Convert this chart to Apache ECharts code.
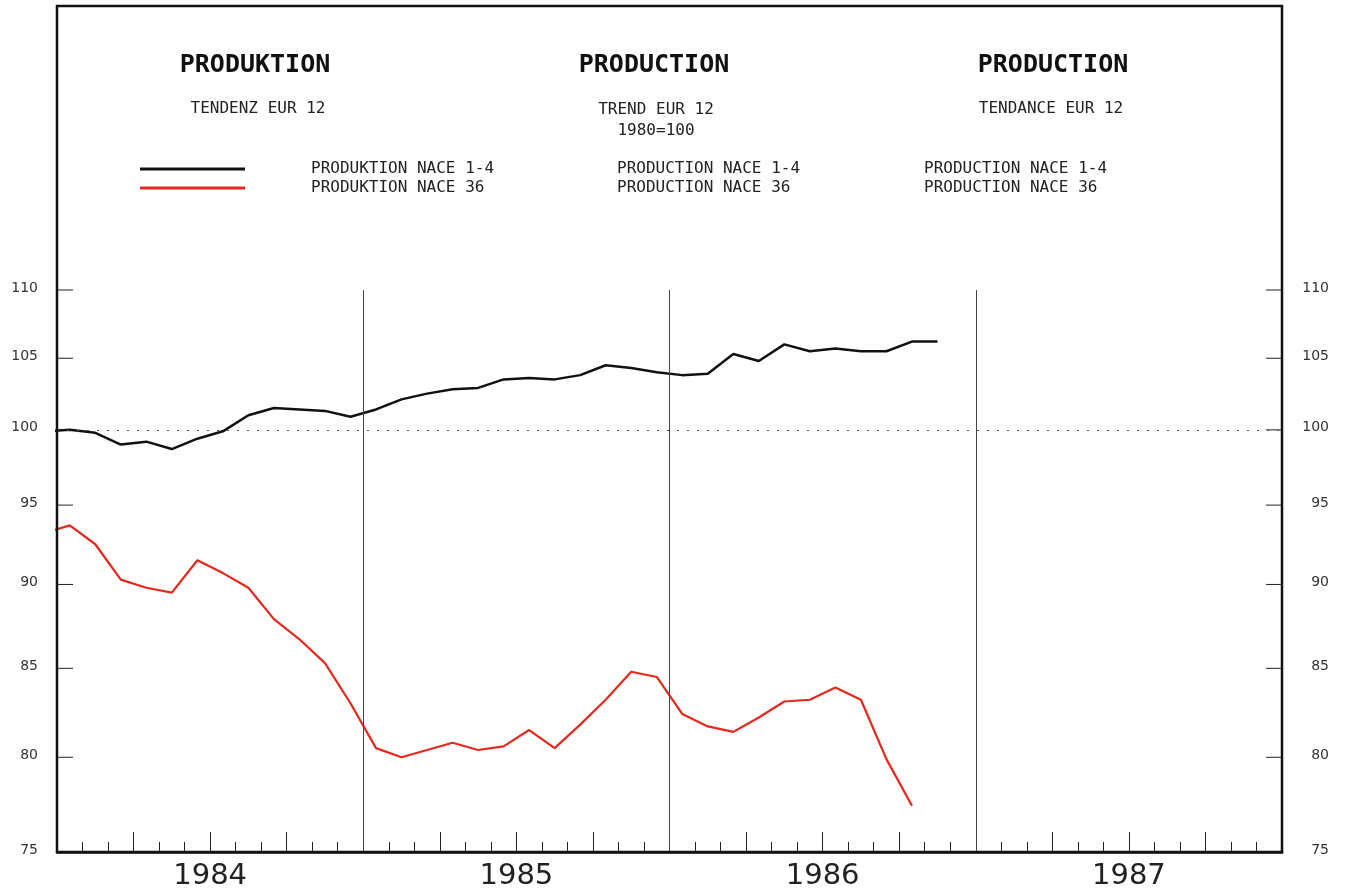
<!DOCTYPE html>
<html>
<head>
<meta charset="utf-8">
<script src="https://cdn.jsdelivr.net/npm/echarts@6/dist/echarts.min.js"></script>
<style>
html,body{margin:0;padding:0;background:#fff;}
#chart{width:1345px;height:894px;}
</style>
</head>
<body>
<div id="chart"></div>
<script>
// ---- data ----
const years = ['1984', '1985', '1986', '1987'];
const yTicks = [75, 80, 85, 90, 95, 100, 105, 110];
const namesDE = ['PRODUKTION NACE 1-4', 'PRODUKTION NACE 36'];
const namesEN = ['PRODUCTION NACE 1-4', 'PRODUCTION NACE 36'];
const namesFR = ['PRODUCTION NACE 1-4', 'PRODUCTION NACE 36'];
// monthly values, first value = Dec 1983
const startMonth = -1;
const nace14 = [99.9,
  100.0, 99.8, 99.0, 99.2, 98.7, 99.4, 99.9, 101.0, 101.5, 101.4, 101.3, 100.9,
  101.4, 102.1, 102.5, 102.8, 102.9, 103.5, 103.6, 103.5, 103.8, 104.5, 104.3, 104.0,
  103.8, 103.9, 105.3, 104.8, 106.0, 105.5, 105.7, 105.5, 105.5, 106.2, 106.2];
const nace36 = [93.2,
  93.7, 92.5, 90.3, 89.8, 89.5, 91.5, 90.7, 89.8, 87.9, 86.7, 85.3, 83.0,
  80.5, 80.0, 80.4, 80.8, 80.4, 80.6, 81.5, 80.5, 81.8, 83.2, 84.8, 84.5,
  82.4, 81.7, 81.4, 82.2, 83.1, 83.2, 83.9, 83.2, 79.9, 77.4];
const baseLine = 100;

// ---- build ----
const toPoints = arr => arr.map((v, i) => [startMonth + i + 0.5, v]);
const nMonths = years.length * 12;
const yearBounds = years.slice(1).map((y, i) => ({ xAxis: (i + 1) * 12 }));

const chart = echarts.init(document.getElementById('chart'), null, { renderer: 'canvas' });
const monoFont = '"DejaVu Sans Mono", monospace';

const option = {
  animation: false,
  backgroundColor: '#ffffff',
  title: [
    { text: 'PRODUKTION', left: 255, top: 53, textAlign: 'center', padding: 0,
      textStyle: { fontFamily: monoFont, fontSize: 25, fontWeight: 'bold', color: '#111' } },
    { text: 'TENDENZ EUR 12', left: 258, top: 101, textAlign: 'center', padding: 0,
      textStyle: { fontFamily: monoFont, fontSize: 16, fontWeight: 'normal', color: '#222' } },
    { text: 'PRODUCTION', left: 654, top: 53, textAlign: 'center', padding: 0,
      textStyle: { fontFamily: monoFont, fontSize: 25, fontWeight: 'bold', color: '#111' } },
    { text: 'TREND EUR 12\n1980=100', left: 656, top: 99, textAlign: 'center', padding: 0,
      textStyle: { fontFamily: monoFont, fontSize: 16, fontWeight: 'normal', color: '#222', lineHeight: 21 } },
    { text: 'PRODUCTION', left: 1053, top: 53, textAlign: 'center', padding: 0,
      textStyle: { fontFamily: monoFont, fontSize: 25, fontWeight: 'bold', color: '#111' } },
    { text: 'TENDANCE EUR 12', left: 1051, top: 101, textAlign: 'center', padding: 0,
      textStyle: { fontFamily: monoFont, fontSize: 16, fontWeight: 'normal', color: '#222' } }
  ],
  legend: {
    data: namesDE,
    orient: 'vertical',
    left: 140,
    top: 161,
    padding: 0,
    itemWidth: 105,
    itemHeight: 3,
    itemGap: 3,
    icon: 'rect',
    selectedMode: false,
    formatter: name => {
      const i = namesDE.indexOf(name);
      return '{a|' + namesDE[i] + '}{b|' + namesEN[i] + '}{c|' + namesFR[i] + '}';
    },
    textStyle: {
      fontFamily: monoFont, fontSize: 16, color: '#222', lineHeight: 16,
      rich: {
        a: { fontFamily: monoFont, fontSize: 16, color: '#222', width: 306, padding: [0, 0, 0, 61] },
        b: { fontFamily: monoFont, fontSize: 16, color: '#222', width: 307 },
        c: { fontFamily: monoFont, fontSize: 16, color: '#222' }
      }
    }
  },
  graphic: [
    { type: 'rect', z: 100, silent: true,
      shape: { x: 57, y: 6, width: 1225, height: 846 },
      style: { fill: null, stroke: '#111', lineWidth: 2.5 } }
  ],
  grid: { left: 57, right: 63, top: 290, bottom: 42, containLabel: false },
  xAxis: [
    {
      type: 'value', min: 0, max: nMonths, interval: 3,
      axisLine: { show: true, onZero: false, lineStyle: { color: '#111', width: 2.5 } },
      axisTick: { show: true, inside: true, length: 20, lineStyle: { color: '#222', width: 1 } },
      minorTick: { show: true, splitNumber: 3, length: 10, lineStyle: { color: '#222', width: 1 } },
      axisLabel: { show: false },
      splitLine: { show: false }
    },
    {
      type: 'category', data: years, boundaryGap: true, position: 'bottom',
      axisLine: { show: false }, axisTick: { show: false }, splitLine: { show: false },
      axisLabel: { margin: 10, fontSize: 29, fontFamily: '"DejaVu Sans"', color: '#222' }
    }
  ],
  yAxis: {
    type: 'log', logBase: 10, min: yTicks[0], max: yTicks[yTicks.length - 1],
    axisLine: { show: false }, axisTick: { show: false },
    axisLabel: { show: false }, splitLine: { show: false }
  },
  series: [
    {
      name: namesDE[0], type: 'line', data: toPoints(nace14),
      showSymbol: false, symbol: 'none', clip: true,
      itemStyle: { color: '#111' },
      lineStyle: { color: '#111', width: 2.5 },
      markLine: {
        silent: true, symbol: 'none', label: { show: false },
        lineStyle: { type: 'solid', color: '#444', width: 1 },
        data: yearBounds.concat([
          { yAxis: baseLine, lineStyle: { type: [2, 8], color: '#555', width: 1 } }
        ])
      }
    },
    {
      name: namesDE[1], type: 'line', data: toPoints(nace36),
      showSymbol: false, symbol: 'none', clip: true,
      itemStyle: { color: '#e5281c' },
      lineStyle: { color: '#e5281c', width: 2.2 }
    },
    {
      name: 'yticks', type: 'custom', silent: true, clip: false,
      data: yTicks.map(v => [0, v]),
      renderItem: (params, api) => {
        const v = api.value(1);
        const l = api.coord([0, v]);
        const r = api.coord([nMonths, v]);
        const txt = { fontSize: 14, fontFamily: '"DejaVu Sans"', fill: '#333', align: 'right', verticalAlign: 'middle' };
        const children = [
          { type: 'text', x: l[0] - 19, y: l[1] - 2, style: Object.assign({ text: String(v) }, txt) },
          { type: 'text', x: r[0] + 47, y: r[1] - 2, style: Object.assign({ text: String(v) }, txt) }
        ];
        if (v > yTicks[0]) {
          children.push({ type: 'line', shape: { x1: l[0], y1: l[1], x2: l[0] + 16, y2: l[1] }, style: { stroke: '#222', lineWidth: 1 } });
          children.push({ type: 'line', shape: { x1: r[0] - 16, y1: r[1], x2: r[0], y2: r[1] }, style: { stroke: '#222', lineWidth: 1 } });
        }
        return { type: 'group', children: children };
      }
    }
  ]
};
chart.setOption(option);
</script>
</body>
</html>
